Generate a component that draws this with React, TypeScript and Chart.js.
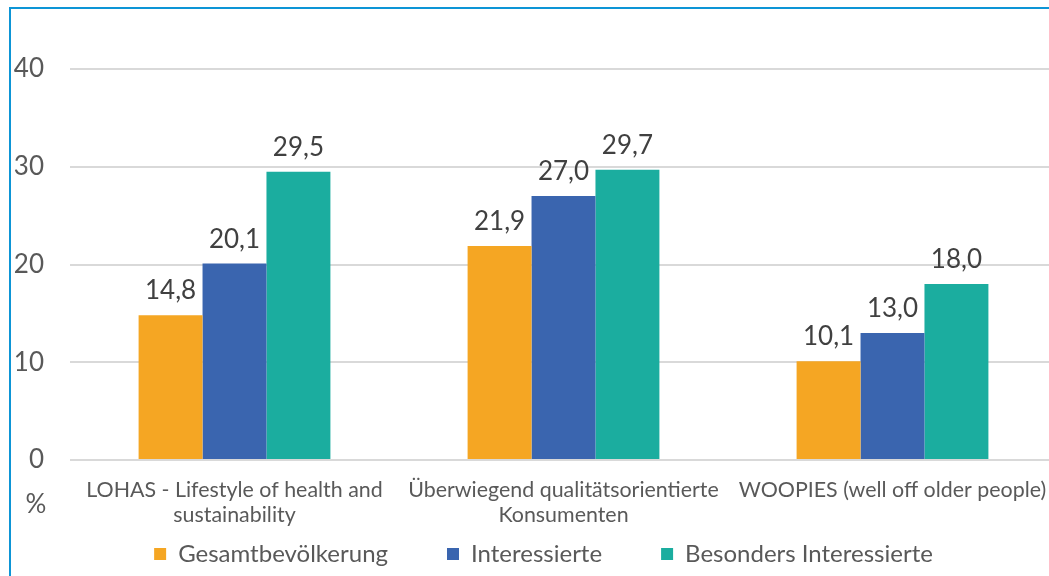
import React, { useEffect, useRef } from "react";
import { Chart, registerables } from "chart.js";

Chart.register(...registerables);

const categories: (string | string[])[] = [
  ["LOHAS - Lifestyle of health and", "sustainability"],
  ["Überwiegend qualitätsorientierte", "Konsumenten"],
  "WOOPIES (well off older people)",
];
const seriesNames = ["Gesamtbevölkerung", "Interessierte", "Besonders Interessierte"];
const gesamt = [14.8, 21.9, 10.1];
const interessierte = [20.1, 27.0, 13.0];
const besonders = [29.5, 29.7, 18.0];
const yTicks = { min: 0, max: 40, step: 10 };
const unitLabel = "%";

const COLORS = ["#F5A623", "#3A65AF", "#1BAD9F"];
const FONT = "Lato, 'Open Sans', sans-serif";
const LEGEND_FONT = 24;
const LEGEND_PAD = 59;
const CANVAS_H = 576;
const PLOT_BOTTOM = 460;

const dataLabelPlugin = {
  id: "dataLabels",
  afterDatasetsDraw(chart: any) {
    const ctx = chart.ctx;
    ctx.save();
    ctx.font = `26px ${FONT}`;
    ctx.fillStyle = "#404040";
    ctx.textAlign = "center";
    ctx.textBaseline = "alphabetic";
    chart.data.datasets.forEach((ds: any, i: number) => {
      const meta = chart.getDatasetMeta(i);
      meta.data.forEach((el: any, j: number) => {
        const v = ds.data[j] as number;
        ctx.fillText(v.toFixed(1).replace(".", ","), el.x, el.y - 16);
      });
    });
    ctx.restore();
  },
};

const unitPlugin = {
  id: "unitLabel",
  afterDraw(chart: any) {
    const ctx = chart.ctx;
    const y0 = chart.scales.y.getPixelForValue(0);
    ctx.save();
    ctx.font = `26px ${FONT}`;
    ctx.fillStyle = "#595959";
    ctx.textAlign = "center";
    ctx.textBaseline = "middle";
    ctx.fillText(unitLabel, 36, y0 + 45);
    ctx.restore();
  },
};

// shifts the legend slightly and lets the x-axis labels extend past their box
const layoutTweakPlugin = {
  id: "layoutTweak",
  afterLayout(chart: any) {
    if (chart.legend) {
      chart.legend.left += 10;
      chart.legend.right += 10;
    }
    const x = chart.scales.x;
    if (x) {
      x.bottom = x.top + 80;
    }
  },
};

export default function App() {
  const ref = useRef<HTMLCanvasElement | null>(null);
  useEffect(() => {
    if (!ref.current) return;
    const chart = new Chart(ref.current, {
      type: "bar",
      data: {
        labels: categories,
        datasets: [gesamt, interessierte, besonders].map((d, i) => ({
          label: seriesNames[i],
          data: d,
          backgroundColor: COLORS[i],
          borderWidth: 0,
          categoryPercentage: 0.583,
          barPercentage: 1,
        })),
      },
      options: {
        animation: false,
        responsive: false,
        devicePixelRatio: 1,
        layout: { padding: { left: 10, right: 43, top: 69, bottom: 0 } },
        plugins: {
          tooltip: { enabled: false },
          legend: {
            position: "bottom",
            labels: {
              font: { family: FONT, size: LEGEND_FONT },
              color: "#595959",
              boxWidth: 12,
              boxHeight: 12,
              padding: LEGEND_PAD,
            },
          },
        },
        scales: {
          y: {
            min: yTicks.min,
            max: yTicks.max,
            ticks: {
              stepSize: yTicks.step,
              font: { family: FONT, size: 26 },
              color: "#595959",
              padding: 26,
            },
            grid: { color: "#D9D9D9", lineWidth: 2, drawTicks: false },
            border: { display: false },
            afterFit(scale: any) {
              scale.width = 60;
            },
          },
          x: {
            ticks: {
              font: { family: FONT, size: 21.4 },
              color: "#595959",
              padding: 9,
              maxRotation: 0,
              autoSkip: false,
            },
            grid: { display: false },
            border: { display: false },
            afterFit(scale: any) {
              const legendH = LEGEND_FONT + LEGEND_PAD + 10;
              scale.height = CANVAS_H - legendH - PLOT_BOTTOM;
            },
          },
        },
      },
      plugins: [dataLabelPlugin, unitPlugin, layoutTweakPlugin],
    });
    return () => chart.destroy();
  }, []);

  return (
    <div style={{ position: "fixed", inset: 0, overflow: "hidden", background: "#fff" }}>
      <div
        style={{
          position: "absolute",
          left: 9,
          top: 7,
          width: 1300,
          height: 900,
          border: "2px solid #0D95D6",
        }}
      />
      <canvas
        ref={ref}
        width={1100}
        height={CANVAS_H}
        style={{ position: "absolute", left: 0, top: 0 }}
      />
    </div>
  );
}
